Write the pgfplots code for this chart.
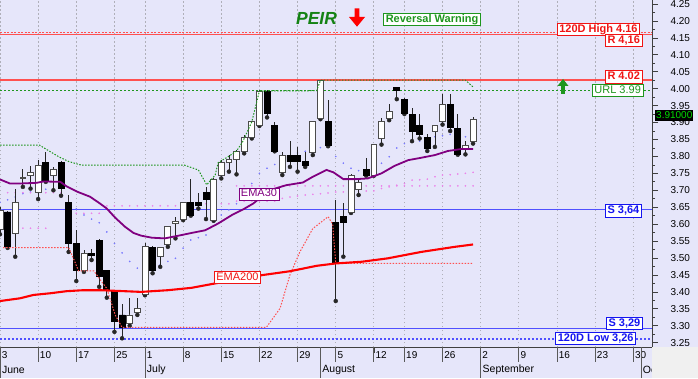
\documentclass[border=0pt]{standalone}
\usepackage{fontspec}
\setmainfont{Liberation Sans}
\usepackage{pgfplots}
\usepackage{pgfplotstable}
\pgfplotsset{compat=1.18}
\definecolor{bgc}{RGB}{230,230,250}
\definecolor{lnred}{RGB}{255,80,80}
\definecolor{lnblue}{RGB}{80,80,255}
\definecolor{txred}{RGB}{240,20,20}
\definecolor{txblue}{RGB}{20,20,240}
\definecolor{grn}{RGB}{30,150,30}
\definecolor{peirg}{RGB}{20,130,20}
\definecolor{emapur}{RGB}{128,0,128}
\definecolor{emared}{RGB}{255,0,0}
\definecolor{dotblue}{RGB}{120,120,255}
\definecolor{dotpink}{RGB}{235,130,235}
\definecolor{sepc}{RGB}{90,90,90}
\definecolor{cornerc}{RGB}{240,240,240}
\definecolor{gridc}{RGB}{175,175,185}

\pgfplotstableread{
i o h l c
0 3.585 3.650 3.570 3.642
1 3.636 3.640 3.530 3.533
2 3.572 3.703 3.504 3.663
3 3.735 3.762 3.710 3.738
4 3.745 3.772 3.705 3.752
5 3.693 3.789 3.674 3.774
6 3.782 3.814 3.725 3.727
7 3.745 3.769 3.700 3.762
8 3.783 3.785 3.684 3.705
9 3.664 3.686 3.518 3.543
10 3.543 3.582 3.432 3.463
11 3.463 3.523 3.459 3.514
12 3.514 3.526 3.494 3.507
13 3.553 3.555 3.415 3.445
14 3.462 3.463 3.383 3.405
15 3.400 3.401 3.282 3.312
16 3.332 3.363 3.263 3.295
17 3.307 3.383 3.300 3.332
18 3.339 3.383 3.332 3.351
19 3.393 3.543 3.390 3.533
20 3.531 3.535 3.455 3.464
21 3.504 3.533 3.474 3.531
22 3.540 3.594 3.533 3.592
23 3.603 3.622 3.558 3.608
24 3.615 3.665 3.612 3.663
25 3.663 3.733 3.625 3.627
26 3.663 3.691 3.646 3.656
27 3.694 3.710 3.615 3.674
28 3.612 3.735 3.610 3.733
29 3.745 3.789 3.735 3.782
30 3.782 3.804 3.755 3.792
31 3.792 3.819 3.747 3.814
32 3.814 3.863 3.809 3.855
33 3.855 3.904 3.853 3.902
34 3.892 3.995 3.890 3.993
35 3.993 3.995 3.915 3.927
36 3.892 3.902 3.815 3.816
37 3.753 3.814 3.745 3.804
38 3.804 3.845 3.769 3.784
39 3.804 3.828 3.755 3.784
40 3.784 3.814 3.769 3.774
41 3.812 3.904 3.804 3.902
42 3.912 4.026 3.910 4.024
43 3.903 3.968 3.830 3.833
44 3.604 3.671 3.373 3.484
45 3.624 3.663 3.504 3.604
46 3.635 3.747 3.633 3.745
47 3.703 3.730 3.686 3.723
48 3.762 3.794 3.743 3.745
49 3.745 3.837 3.743 3.835
50 3.853 3.914 3.835 3.904
51 3.912 3.956 3.907 3.934
52 4.004 4.005 3.969 3.996
53 3.969 3.972 3.925 3.927
54 3.924 3.944 3.845 3.875
55 3.892 3.924 3.853 3.865
56 3.855 3.865 3.816 3.825
57 3.873 3.894 3.828 3.892
58 3.902 3.983 3.894 3.953
59 3.953 3.983 3.875 3.885
60 3.883 3.924 3.805 3.806
61 3.822 3.845 3.806 3.833
62 3.843 3.916 3.838 3.910
}\candles

\pgfplotstableread{
i v
0 3.665
1 3.672
2 3.680
3 3.690
4 3.695
5 3.700
6 3.703
7 3.701
8 3.680
9 3.662
10 3.645
11 3.627
12 3.615
13 3.604
14 3.577
15 3.543
16 3.515
17 3.490
18 3.470
19 3.465
20 3.470
21 3.480
22 3.490
23 3.499
24 3.529
25 3.553
26 3.560
27 3.568
28 3.607
29 3.627
30 3.642
31 3.660
32 3.690
33 3.720
34 3.750
35 3.765
36 3.776
37 3.790
38 3.800
39 3.810
40 3.815
41 3.820
42 3.826
43 3.833
44 3.800
45 3.780
46 3.765
47 3.758
48 3.760
49 3.760
50 3.780
51 3.799
52 3.825
53 3.838
54 3.843
55 3.845
56 3.848
57 3.858
58 3.861
59 3.865
60 3.858
61 3.858
62 3.861
}\bluedots

\pgfplotstableread{
i v
1 3.693
2 3.693
3 3.693
4 3.693
5 3.693
6 3.693
7 3.693
8 3.693
9 3.660
10 3.632
11 3.632
12 3.632
13 3.632
14 3.654
15 3.654
16 3.654
17 3.654
18 3.654
19 3.654
20 3.654
21 3.654
22 3.654
23 3.654
24 3.654
25 3.660
26 3.660
27 3.660
28 3.660
29 3.660
30 3.660
31 3.668
32 3.668
33 3.668
34 3.668
35 3.668
36 3.668
37 3.676
38 3.680
39 3.683
40 3.686
41 3.688
42 3.690
43 3.692
44 3.695
45 3.695
46 3.695
47 3.695
48 3.698
49 3.698
50 3.705
51 3.710
52 3.715
53 3.720
54 3.730
55 3.731
56 3.733
57 3.740
58 3.745
59 3.746
60 3.748
61 3.750
62 3.753
}\pinkA

\pgfplotstableread{
i v
2 3.588
3 3.588
4 3.588
5 3.588
6 3.588
31 3.713
32 3.713
33 3.713
34 3.713
35 3.713
36 3.713
37 3.713
38 3.713
39 3.713
40 3.713
41 3.713
42 3.713
43 3.713
44 3.713
45 3.713
46 3.713
47 3.713
48 3.713
49 3.713
50 3.713
51 3.713
52 3.713
53 3.713
54 3.713
55 3.713
56 3.713
57 3.713
58 3.713
59 3.713
60 3.713
61 3.713
62 3.713
}\pinkB

\pgfplotsset{chartbase/.style={at={(0pt,31pt)}, anchor=south west,
  width=652pt, height=347pt, scale only axis,
  xmin=0, xmax=85.4522, ymin=3.2373, ymax=4.2618}}

\tikzset{lbl/.style={draw=#1, text=#1, fill=white, line width=0.8pt,
  inner xsep=2pt, inner ysep=1pt, text height=8pt, text depth=2.2pt,
  font=\bfseries\fontsize{11}{13}\selectfont}}

\begin{document}
\begin{tikzpicture}
\fill[bgc] (0,0) rectangle (698pt,378pt);
\useasboundingbox (0,0) rectangle (698pt,378pt);

% ---------- axis 1: frame, grid, reference lines, dots, wicks
\begin{axis}[chartbase,
  axis x line*=bottom, axis y line*=right,
  axis line style={black!75, line width=0.8pt},
  xtick={0,5,10,15,19,24,29,34,39,44,49,53,58,63,68,73,78,83},
  xticklabels={},
  xmajorgrids, grid style={gridc, line width=0.8pt, dash pattern=on 1.5pt off 2.5pt},
  ytick={3.25,3.30,3.35,3.40,3.45,3.50,3.55,3.60,3.65,3.70,3.75,3.80,3.85,3.90,3.95,4.00,4.05,4.10,4.15,4.20,4.25},
  minor y tick num=1,
  tick align=outside, major tick length=6pt, minor tick length=3pt,
  tick style={black!75, line width=0.7pt},
  yticklabel style={font=\fontsize{10}{12}\selectfont, anchor=west, xshift=9pt,
    /pgf/number format/fixed, /pgf/number format/fixed zerofill,
    /pgf/number format/precision=2, /pgf/number format/assume math mode=true},
  clip mode=individual,
]
% reference lines
\addplot[lnred, line width=1.2pt, dash pattern=on 2pt off 1.5pt] coordinates {(0,4.1664) (85.4522,4.1664)};
\addplot[lnred, line width=1.2pt] coordinates {(0,4.1605) (85.4522,4.1605)};
\addplot[lnred, line width=1.2pt] coordinates {(0,4.0256) (85.4522,4.0256)};
\addplot[grn, line width=1.1pt, dash pattern=on 2pt off 2pt] coordinates {(0,3.994) (85.4522,3.994)};
\addplot[lnblue, line width=1.2pt] coordinates {(0,3.6439) (85.4522,3.6439)};
\addplot[lnblue, line width=1.2pt] coordinates {(0,3.2925) (85.4522,3.2925)};
\addplot[lnblue, line width=1.1pt, dash pattern=on 2pt off 2pt] coordinates {(0,3.261) (85.4522,3.261)};
% dotted indicator dots
\addplot[only marks, mark=*, mark size=0.6pt, dotblue, mark options={draw=none, fill=dotblue}] table[x=i, y=v] {\bluedots};
\addplot[only marks, mark=*, mark size=0.6pt, dotpink, mark options={draw=none, fill=dotpink}] table[x=i, y=v] {\pinkA};
\addplot[only marks, mark=*, mark size=0.6pt, dotpink, mark options={draw=none, fill=dotpink}] table[x=i, y=v] {\pinkB};
% wicks
\addplot[black!85, only marks, mark=none,
  error bars/.cd, y dir=plus, y explicit, error mark=none,
  error bar style={line width=0.8pt, black!85}]
  table[x=i, y=l, y error expr=\thisrow{h}-\thisrow{l}] {\candles};
\end{axis}

% ---------- axis 2: candle bodies
\begin{axis}[chartbase, hide axis, ybar stacked, bar width=0.78]
\addplot[draw=none, fill=none] table[x=i, y expr={min(\thisrow{o},\thisrow{c})}] {\candles};
\addplot[fill=white, draw=black!70, line width=0.8pt] table[x=i, y expr={max(\thisrow{c}-\thisrow{o},0)}] {\candles};
\addplot[fill=black, draw=black, line width=0.8pt] table[x=i, y expr={max(\thisrow{o}-\thisrow{c},0)}] {\candles};
\end{axis}

% ---------- axis 3: moving averages and channels
\begin{axis}[chartbase, hide axis, clip mode=individual]
\addplot[grn, line width=1pt, dash pattern=on 1.5pt off 1.5pt] coordinates {
(0,3.833) (5.2,3.833) (6,3.822) (7.7,3.799) (9,3.785) (10.7,3.774) (24.2,3.774)
(26,3.760) (27.1,3.716) (28.2,3.745) (28.6,3.782) (29.9,3.799) (31,3.816)
(31.8,3.843) (33,3.902) (34,3.993) (41.5,3.994) (42,4.025) (61,4.025) (62,4.005)};
\addplot[lnred, line width=1pt, dash pattern=on 1.5pt off 1.5pt] coordinates {
(0.4,3.531) (9,3.531) (9.6,3.50) (10.3,3.462) (12.3,3.462) (13,3.44) (14,3.41)
(15.1,3.332) (16,3.295) (34.9,3.295) (36.7,3.351) (38,3.450) (39.3,3.518)
(41,3.587) (43,3.622) (43.6,3.600) (44,3.484) (62,3.484)};
\addplot[emared, line width=2.1pt] coordinates {
(0,3.373) (2.6,3.381) (4.4,3.391) (6.6,3.396) (8.7,3.402) (10.9,3.405) (13.1,3.405)
(16.4,3.402) (18.5,3.400) (22,3.405) (25.1,3.412) (28.2,3.425) (31,3.437)
(34.5,3.450) (38,3.461) (41.5,3.477) (44,3.484) (47.4,3.489) (50.8,3.499)
(55.2,3.518) (59.6,3.533) (62,3.540)};
\addplot[emapur, line width=1.8pt] coordinates {
(0,3.732) (1.3,3.720) (2.6,3.720) (4.8,3.722) (5.7,3.726) (7.9,3.725) (8.7,3.712)
(10.1,3.696) (11.8,3.681) (13.1,3.661) (14,3.646) (15.1,3.619) (16.4,3.592)
(17.5,3.574) (18.5,3.566) (19.9,3.560) (21.6,3.558) (23.4,3.566) (25.1,3.574)
(26.9,3.582) (28.6,3.602) (30.4,3.627) (31.9,3.644) (33.2,3.661) (35.3,3.700)
(37.5,3.715) (39.7,3.723) (41,3.740) (42.8,3.760) (43.7,3.753) (45,3.733)
(46.7,3.733) (48.2,3.735) (50,3.750) (51.7,3.772) (53.5,3.789) (55.2,3.796)
(57,3.804) (58.7,3.816) (60.5,3.822) (62,3.822)};
\end{axis}

% ---------- date rows
\foreach \x/\t in {0/3,5/10,10/17,15/25,19/1,24/8,29/15,34/22,39/29,44/5,49/12,53/19,58/26,63/2,68/9,73/16,78/23,83/30}{
  \draw[sepc, line width=0.8pt] (\x*7.63pt,31pt) -- ++(0,-15pt);
  \node[anchor=west, inner sep=0pt, font=\fontsize{10}{12}\selectfont] at (\x*7.63pt+1.6pt,23pt) {\t};
}
\foreach \x/\t in {0/June,19/July,42/August,63/September,84/October}{
  \draw[sepc, line width=0.8pt] (\x*7.63pt,31pt) -- ++(0,-31pt);
  \node[anchor=west, inner sep=0pt, font=\fontsize{10.5}{12}\selectfont] at (\x*7.63pt+1.8pt,8pt) {\t};
}
\fill[cornerc] (652.4pt,0) rectangle (698pt,30.6pt);

% ---------- annotations
\node[font=\bfseries\itshape\fontsize{17.5}{20}\selectfont, text=peirg, inner sep=0pt] at (316.5pt,359.7pt) {PEIR};
\fill[red] (354.6pt,369.7pt) -- (359.4pt,369.7pt) -- (359.4pt,361pt) -- (365pt,361pt) -- (357pt,351.3pt) -- (349pt,361pt) -- (354.6pt,361pt) -- cycle;
\node[lbl=grn] at (432pt,358.3pt) {Reversal Warning};
\fill[grn] (561.2pt,284pt) -- (564.8pt,284pt) -- (564.8pt,292pt) -- (568.5pt,292pt) -- (563pt,299pt) -- (557.5pt,292pt) -- (561.2pt,292pt) -- cycle;

\node[lbl=txred, anchor=east] at (640pt,348.8pt) {120D High 4.16};
\node[lbl=txred, anchor=east] at (642.3pt,337.2pt) {R 4,16};
\node[lbl=txred, anchor=east] at (642.3pt,301pt) {R 4.02};
\node[lbl=grn, anchor=east, font=\fontsize{11}{13}\selectfont] at (643.3pt,287.5pt) {URL 3.99};
\node[lbl=txblue, anchor=east] at (641.7pt,167.2pt) {S 3,64};
\node[lbl=txblue, anchor=east] at (642.7pt,54.7pt) {S 3,29};
\node[lbl=txblue, anchor=east] at (636pt,39.7pt) {120D Low 3,26};
\node[lbl=emapur, font=\fontsize{11}{13}\selectfont] at (259pt,184pt) {EMA30};
\node[lbl=txred, font=\fontsize{11}{13}\selectfont] at (237.5pt,100.5pt) {EMA200};
\node[anchor=west, fill=black, text={rgb,255:red,0;green,220;blue,0}, inner xsep=1pt, inner ysep=1.5pt,
  font=\fontsize{10}{12}\selectfont] at (655pt,262.5pt) {3.91000};
\end{tikzpicture}
\end{document}
